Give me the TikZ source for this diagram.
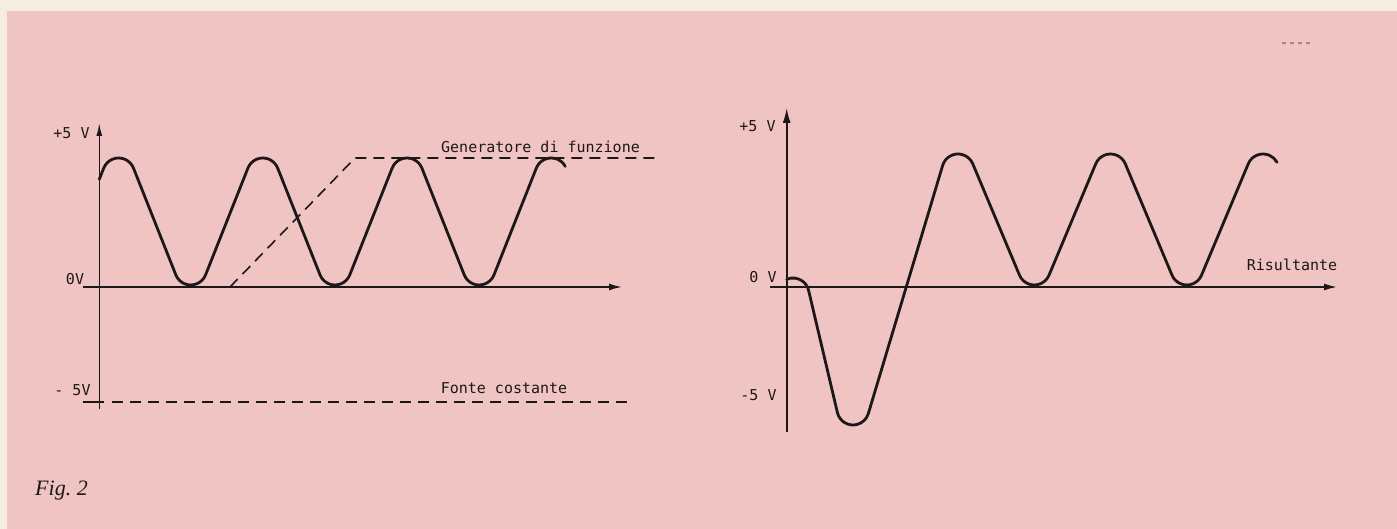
\documentclass[tikz,border=0pt]{standalone}
\usepackage{fontspec}
\setmainfont{Liberation Serif}
\newfontfamily\stencil{DejaVu Sans Mono}
\usetikzlibrary{arrows.meta}
\definecolor{paper}{RGB}{240,196,194}
\definecolor{cream}{RGB}{245,237,224}
\definecolor{ink}{RGB}{28,24,24}
\begin{document}
\begin{tikzpicture}[x=1pt,y=1pt,
  wave/.style={draw=ink,line width=2.8pt,line cap=round,line join=round},
  axis/.style={draw=ink,line width=1.6pt},
  axarrow/.style={axis,-{Latex[length=13pt,width=7pt]}},
  dashline/.style={draw=ink,line width=1.6pt,dash pattern=on 11pt off 7pt},
  lbl/.style={font=\stencil\fontsize{15}{17}\selectfont,text=ink,inner sep=0pt,anchor=base},
]
\fill[cream] (0,0) rectangle (1397,529);
\fill[paper] (7,0) rectangle (1397,518);
\useasboundingbox (0,0) rectangle (1397,529);

% ---------- left graph ----------
\coordinate (LyB) at (99.3,120);
\coordinate (LyT) at (99.3,406);
\coordinate (LxL) at (83,242);
\coordinate (LxR) at (622,242);
\draw[axis,-{Latex[length=13pt,width=6pt]}] (LyB) -- (LyT);
\draw[axarrow] (LxL) -- (LxR);

\draw[wave] (99.3,349.73) -- (103.73,360.9)
  arc[start angle=158.36,end angle=21.64,radius=16pt] -- ++(42.36,-106.8)
  arc[start angle=201.64,end angle=338.36,radius=16pt] -- ++(42.36,106.8)
  arc[start angle=158.36,end angle=21.64,radius=16pt] -- ++(42.36,-106.8)
  arc[start angle=201.64,end angle=338.36,radius=16pt] -- ++(42.36,106.8)
  arc[start angle=158.36,end angle=21.64,radius=16pt] -- ++(42.36,-106.8)
  arc[start angle=201.64,end angle=338.36,radius=16pt] -- ++(42.36,106.8)
  arc[start angle=158.36,end angle=28.2,radius=16pt];

\coordinate (G0) at (230,242);
\coordinate (G1) at (355,371);
\coordinate (G2) at (657,371);
\draw[dashline] (G0) -- (G1) -- (G2);

\coordinate (F0) at (83,127);
\coordinate (F1) at (104,127);
\coordinate (F2) at (112,127);
\coordinate (F3) at (630,127);
\draw[axis] (F0) -- (F1);
\draw[dashline] (F2) -- (F3);

\node[lbl] (lp5) at (71.5,390.7) {+5 V};
\node[lbl] (l0) at (75,244.7) {0V};
\node[lbl] (lm5) at (72.5,133.7) {- 5V};
\node[lbl] (gen) at (540.5,376.7) {Generatore di funzione};
\node[lbl] (fonte) at (504,135.7) {Fonte costante};

% ---------- right graph ----------
\coordinate (RyB) at (786.7,97);
\coordinate (RyT) at (786.7,421);
\coordinate (RxL) at (770,242);
\coordinate (RxR) at (1337,242);
\draw[axis,-{Latex[length=15pt,width=8pt]}] (RyB) -- (RyT);
\draw[axarrow] (RxL) -- (RxR);

\draw[wave] (786.7,249.71)
  arc[start angle=113.2,end angle=13.27,radius=16pt] -- (837.43,116.33)
  arc[start angle=193.27,end angle=343.32,radius=16pt] -- (942.67,363.59)
  arc[start angle=163.32,end angle=22.77,radius=16pt] -- ++(46.75,-111.38)
  arc[start angle=202.77,end angle=337.23,radius=16pt] -- ++(46.75,111.38)
  arc[start angle=157.23,end angle=22.77,radius=16pt] -- ++(46.75,-111.38)
  arc[start angle=202.77,end angle=337.23,radius=16pt] -- ++(46.75,111.38)
  arc[start angle=157.23,end angle=28.96,radius=16pt];

\node[lbl] (rp5) at (757.5,397.7) {+5 V};
\node[lbl] (r0) at (763,246.7) {0 V};
\node[lbl] (rm5) at (758.5,128.7) {-5 V};
\node[lbl] (ris) at (1292,258.7) {Risultante};

% ---------- caption and marks ----------
\node[anchor=base west,inner sep=0pt,text=ink,font=\itshape\fontsize{22}{25}\selectfont] (fig) at (35,33) {Fig.~2};
\coordinate (M0) at (1282,486);
\coordinate (M1) at (1310,486);
\draw[draw=ink!35!paper,line width=1.2pt,dash pattern=on 4pt off 4pt] (M0) -- (M1);
\end{tikzpicture}
\end{document}
